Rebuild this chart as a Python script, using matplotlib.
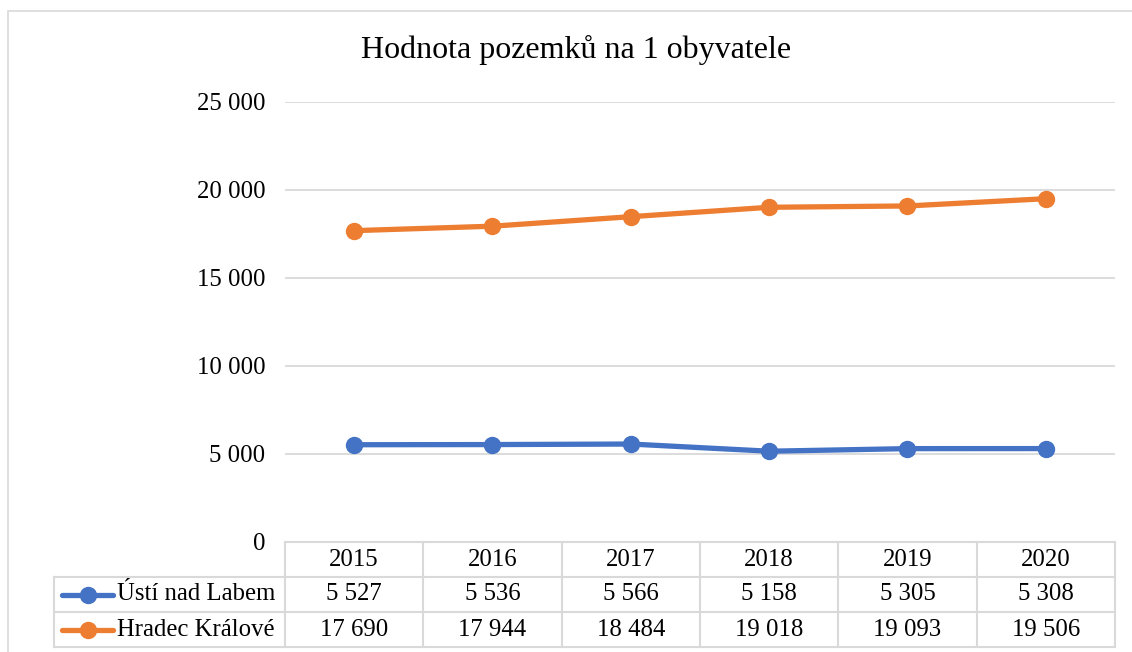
import matplotlib.pyplot as plt
from matplotlib.lines import Line2D
from matplotlib.patches import Rectangle
from matplotlib.transforms import blended_transform_factory

years = ["2015", "2016", "2017", "2018", "2019", "2020"]
usti = [5527, 5536, 5566, 5158, 5305, 5308]
hradec = [17690, 17944, 18484, 19018, 19093, 19506]
series_names = ["Ústí nad Labem", "Hradec Králové"]
colors = ["#4472C4", "#ED7D31"]
yticks = [0, 5000, 10000, 15000, 20000, 25000]

W, H = 1132, 652
grid_col = "#D9D9D9"
plt.rcParams["font.family"] = ["Liberation Serif", "DejaVu Serif"]


def fmt(v):
    return f"{v:,}".replace(",", " ")


def fx(px):
    return px / W


def fy(py):
    return 1 - py / H


fig = plt.figure(figsize=(W / 100, H / 100), dpi=100)

# outer chart border
fig.patches.append(Rectangle((fx(8), fy(700)), fx(1200), fy(11) - fy(700),
                             transform=fig.transFigure, fill=False,
                             edgecolor=grid_col, linewidth=1.2))

left, right, top, bottom = 285, 1115, 102, 542
ax = fig.add_axes([fx(left), fy(bottom), fx(right - left), fy(top) - fy(bottom)])
ax.set_xlim(-0.5, len(years) - 0.5)
ax.set_ylim(0, 25000)
for s in ax.spines.values():
    s.set_visible(False)
ax.set_xticks([])
ax.set_yticks(yticks)
ax.set_yticklabels([fmt(t) for t in yticks], fontsize=17.8)
ax.tick_params(axis="y", length=0, pad=14)
for t in yticks[1:]:
    ax.axhline(t, color=grid_col, linewidth=1.3, zorder=1)

x = list(range(len(years)))
for vals, c in zip([usti, hradec], colors):
    ax.plot(x, vals, color=c, linewidth=3.8, marker="o", markersize=11.5,
            solid_capstyle="round", zorder=3, clip_on=False)

fig.text(fx(576), fy(50), "Hodnota pozemků na 1 obyvatele", ha="center", va="center", fontsize=23)

# data table under the axis
row_y = [542, 577, 612, 647]
tr = blended_transform_factory(ax.transData, fig.transFigure)

lines = []
lines.append(([fx(left), fx(right)], [fy(row_y[0])] * 2))
for ry in row_y[1:]:
    lines.append(([fx(54), fx(right)], [fy(ry)] * 2))
lines.append(([fx(54), fx(54)], [fy(row_y[1]), fy(row_y[3])]))
for i in range(len(years) + 1):
    px = left + (right - left) * i / len(years)
    lines.append(([fx(px), fx(px)], [fy(row_y[0]), fy(row_y[3])]))
for xs, ys in lines:
    fig.add_artist(Line2D(xs, ys, transform=fig.transFigure, color=grid_col, linewidth=1.5))

for i, yr in enumerate(years):
    fig.text(i, fy((row_y[0] + row_y[1]) / 2), yr, transform=tr,
             ha="center", va="center", fontsize=17.8)
for r, vals in enumerate([usti, hradec]):
    cy = fy((row_y[r + 1] + row_y[r + 2]) / 2)
    for i, v in enumerate(vals):
        fig.text(i, cy, fmt(v), transform=tr, ha="center", va="center", fontsize=17.8)
    # legend key
    fig.add_artist(Line2D([fx(62), fx(113)], [cy, cy], transform=fig.transFigure,
                          color=colors[r], linewidth=3.8, solid_capstyle="round"))
    fig.add_artist(Line2D([fx(88)], [cy], transform=fig.transFigure, color=colors[r],
                          marker="o", markersize=11.5))
    fig.text(fx(117), cy, series_names[r], ha="left", va="center", fontsize=17.8)

fig.savefig("out.png", dpi=100)
